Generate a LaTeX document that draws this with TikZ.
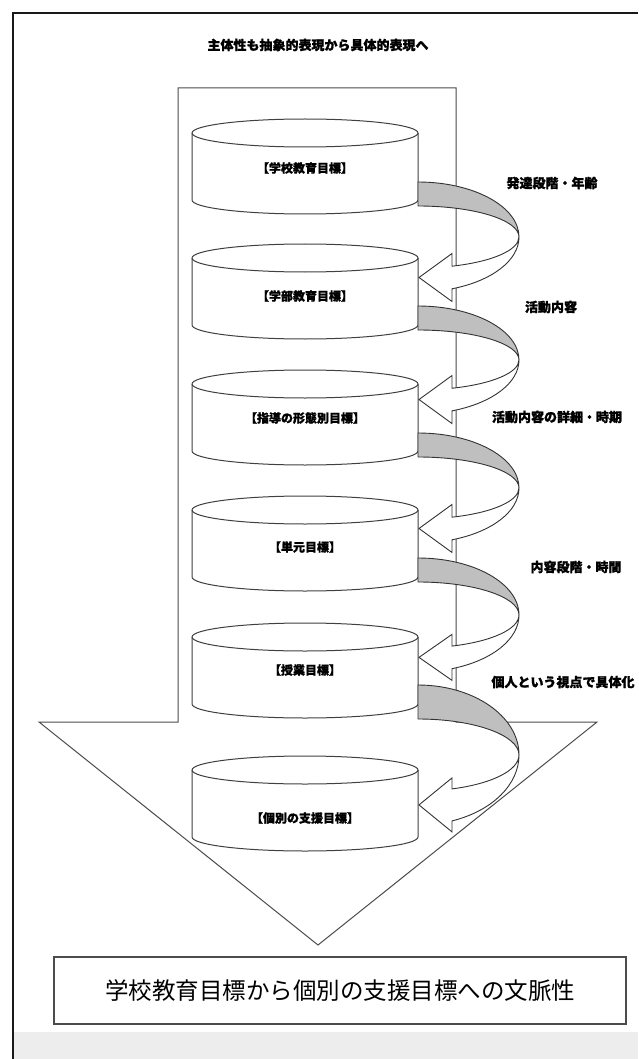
\documentclass[tikz,border=0pt]{standalone}
\usepackage{fontspec}
\setmainfont{Noto Sans CJK JP}[BoldFeatures={FakeBold=1.2}]
\usetikzlibrary{calc}

\tikzset{
  frameline/.style={draw=black!90, line width=1.8pt},
  bigarrow/.style={draw=black!70, line width=1pt, fill=white, line join=miter},
  cylline/.style={draw=black!75, line width=1pt},
  ribbonback/.style={draw=black!80, line width=0.9pt, fill=black!25},
  ribbonfront/.style={draw=black!80, line width=0.9pt, fill=white},
  headtext/.style={font=\fontsize{13pt}{15pt}\selectfont\bfseries, inner sep=0pt},
  cyltext/.style={font=\fontsize{12pt}{14pt}\selectfont\bfseries, inner sep=0pt},
  sidetext/.style={font=\fontsize{13pt}{15pt}\selectfont\bfseries, inner sep=0pt},
  summarybox/.style={draw=black!70, line width=1.1pt, fill=white,
    minimum width=572pt, minimum height=67pt, inner sep=0pt,
    font=\fontsize{23.5pt}{27pt}\selectfont},
}

% one goal drum: #1 name, #2 y of the top rim centre, #3 y of the label, #4 label
\newcommand\goalcyl[4]{%
  \coordinate (#1) at (305,-#2);
  \draw[cylline, fill=white] (192,-#2) -- ++(0,-67)
    arc[start angle=180, end angle=360, x radius=113, y radius=14] -- ++(0,67)
    arc[start angle=0, end angle=180, x radius=113, y radius=14] -- cycle;
  \draw[cylline] (418,-#2) arc[start angle=0, end angle=-180, x radius=113, y radius=14];
  \node[cyltext] (#1label) at (305,-#3) {#4};
}

% curled arrow from one drum to the next:
% #1 source drum, #2 drop of the curl centre, #3 outer radius, #4 inner radius, #5 half head width
\newcommand\turnarrow[5]{%
  \begin{scope}[shift={($(#1)+(113,-#2)$)}]
    \pgfmathsetmacro\yo{-0.9415*#3}
    \pgfmathsetmacro\yi{-0.9415*#4}
    \pgfmathsetmacro\ym{(\yo+\yi)/2}
    \draw[ribbonback] (0,#3)
      arc[start angle=90, end angle=0, x radius=101, y radius=#3]
      arc[start angle=0, end angle=90, x radius=101, y radius=#4] -- cycle;
    \draw[ribbonfront] (101,0)
      arc[start angle=0, end angle=-70.3, x radius=101, y radius=#3]
      -- (34,{\ym-#5}) -- (1,\ym) -- (34,{\ym+#5}) -- (34,\yi)
      arc[start angle=-70.3, end angle=0, x radius=101, y radius=#4] -- cycle;
  \end{scope}
}

\begin{document}
\begin{tikzpicture}[x=1pt, y=1pt]
  \useasboundingbox (0,0) rectangle (638,-1059);
  \fill[white] (0,0) rectangle (638,-1059);

  % page strip and frame
  \fill[black!7] (14,-1032) rectangle (638,-1059);
  \draw[frameline] (13,-1059) -- (13,-13) -- (638,-13);

  % heading
  \node[headtext] (title) at (318,-45) {主体性も抽象的表現から具体的表現へ};

  % large downward arrow
  \draw[bigarrow] (178,-88) -- (456,-88) -- (456,-722) -- (597,-722)
    -- (318,-945) -- (39,-722) -- (178,-722) -- cycle;

  % goal drums
  \goalcyl{c1}{133}{168}{【学校教育目標】}
  \goalcyl{c2}{258}{296}{【学部教育目標】}
  \goalcyl{c3}{384}{418}{【指導の形態別目標】}
  \goalcyl{c4}{510}{547}{【単元目標】}
  \goalcyl{c5}{637}{670}{【授業目標】}
  \goalcyl{c6}{770}{818}{【個別の支援目標】}

  % curled arrows between drums
  \turnarrow{c1}{104}{55}{31}{24}
  \turnarrow{c2}{102}{54}{30}{24}
  \turnarrow{c3}{104}{55}{31}{24}
  \turnarrow{c4}{105}{57}{33}{23}
  \turnarrow{c5}{118}{70}{36}{27}

  % step labels
  \node[sidetext] (s1) at (552,-183) {発達段階・年齢};
  \node[sidetext] (s2) at (551,-307) {活動内容};
  \node[sidetext] (s3) at (557,-417) {活動内容の詳細・時期};
  \node[sidetext] (s4) at (576,-567) {内容段階・時間};
  \node[sidetext] (s5) at (563,-682) {個人という視点で具体化};

  % summary box
  \node[summarybox] (summary) at (340,-990.5) {学校教育目標から個別の支援目標への文脈性};
\end{tikzpicture}
\end{document}
